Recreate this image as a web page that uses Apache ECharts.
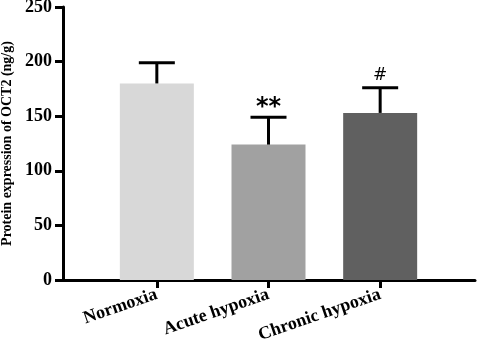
<!DOCTYPE html>
<html>
<head>
<meta charset="utf-8">
<script src="https://cdn.jsdelivr.net/npm/echarts@6/dist/echarts.min.js"></script>
<style>
  html, body { margin: 0; padding: 0; background: #fff; }
  #main { width: 477px; height: 358px; }
</style>
</head>
<body>
<div id="main"></div>
<script>
// OCT2 protein expression, mean + SD
var categories = ['Normoxia', 'Acute hypoxia', 'Chronic hypoxia'];
var means = [180, 124, 153];
var errors = [19, 25, 23];
var marks = ['', '**', '#'];
var yTicks = [0, 50, 100, 150, 200, 250];

var barColors = ['#d8d8d8', '#a1a1a1', '#606060'];
var serif = 'Liberation Serif';

var myChart = echarts.init(document.getElementById('main'));

var errData = [];
for (var i = 0; i < categories.length; i++) {
    errData.push([i, means[i], errors[i], marks[i]]);
}

var option = {
    animation: false,
    grid: [
        { left: 63, right: 2, top: 7, bottom: 78, outerBoundsMode: 'none' },
        { left: 101, right: 41, top: 7, bottom: 78, outerBoundsMode: 'none' }
    ],
    xAxis: [
        {
            gridIndex: 0, type: 'value', min: 0, max: 1,
            axisLine: { show: true, lineStyle: { color: '#000', width: 3 } },
            axisTick: { show: false }, axisLabel: { show: false }, splitLine: { show: false }
        },
        {
            gridIndex: 1, type: 'category', data: categories,
            axisLine: { show: false },
            axisTick: { show: true, alignWithLabel: true, length: 8, lineStyle: { color: '#000', width: 3 } },
            axisLabel: {
                rotate: 19, margin: 14, color: '#000',
                fontFamily: serif, fontWeight: 'bold', fontSize: 18
            }
        }
    ],
    yAxis: [
        {
            gridIndex: 0, type: 'value', min: yTicks[0], max: yTicks[yTicks.length - 1], interval: 50,
            name: 'Protein expression of OCT2 (ng/g)',
            nameLocation: 'middle', nameGap: 44,
            nameTextStyle: { fontFamily: serif, fontWeight: 'bold', fontSize: 14, color: '#000' },
            axisLine: { show: true, lineStyle: { color: '#000', width: 3 } },
            axisTick: { show: true, length: 8, lineStyle: { color: '#000', width: 3 } },
            axisLabel: { margin: 11, color: '#000', fontFamily: serif, fontWeight: 'bold', fontSize: 18 },
            splitLine: { show: false }
        },
        {
            gridIndex: 1, type: 'value', min: 0, max: 250, show: false
        }
    ],
    series: [
        {
            type: 'bar', xAxisIndex: 1, yAxisIndex: 1,
            barWidth: 74,
            data: means.map(function (v, i) {
                return { value: v, itemStyle: { color: barColors[i] } };
            }),
            z: 2
        },
        {
            type: 'custom', xAxisIndex: 1, yAxisIndex: 1,
            data: errData,
            z: 3,
            renderItem: function (params, api) {
                var x = api.value(0);
                var m = api.value(1);
                var e = api.value(2);
                var bottom = api.coord([x, m]);
                var top = api.coord([x, m + e]);
                var half = 18;
                var children = [
                    { type: 'line', shape: { x1: bottom[0], y1: bottom[1], x2: top[0], y2: top[1] },
                      style: { stroke: '#000', lineWidth: 3 } },
                    { type: 'line', shape: { x1: top[0] - half, y1: top[1], x2: top[0] + half, y2: top[1] },
                      style: { stroke: '#000', lineWidth: 3 } }
                ];
                var mk = marks[params.dataIndex];
                if (mk) {
                    var star = mk === '**';
                    children.push({
                        type: 'text',
                        style: {
                            text: mk, x: top[0], y: top[1] - (star ? -2 : 4),
                            align: 'center', verticalAlign: 'bottom',
                            fill: '#000', fontFamily: 'DejaVu Sans',
                            fontSize: star ? 24 : 17, fontWeight: star ? 'bold' : 'normal'
                        }
                    });
                }
                return { type: 'group', children: children };
            }
        }
    ]
};
myChart.setOption(option);
</script>
</body>
</html>
